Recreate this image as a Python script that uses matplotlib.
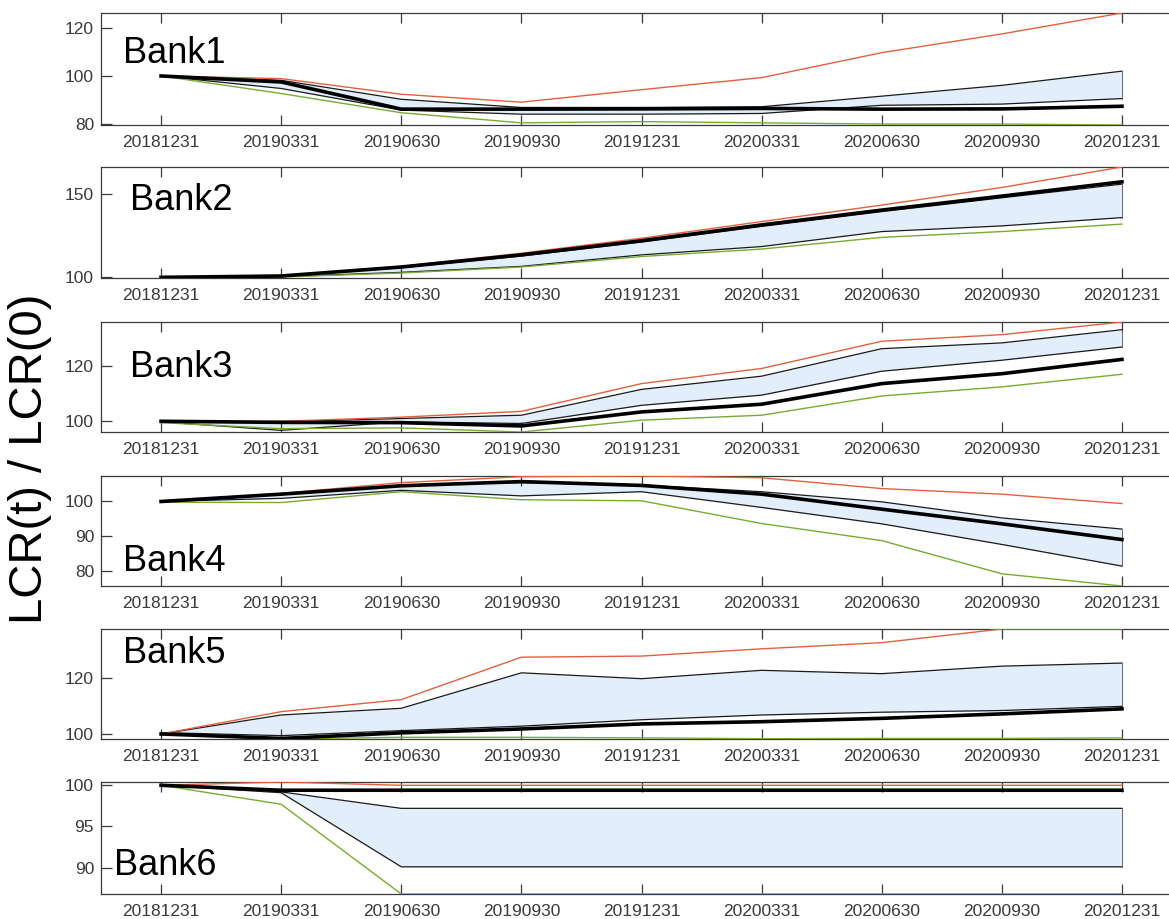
import numpy as np
import matplotlib.pyplot as plt

plt.rcParams['font.family'] = ['Liberation Sans', 'DejaVu Sans']

dates = ['20181231', '20190331', '20190630', '20190930', '20191231',
         '20200331', '20200630', '20200930', '20201231']
banks = ['Bank1', 'Bank2', 'Bank3', 'Bank4', 'Bank5', 'Bank6']

# LCR(t)/LCR(0) per bank: max, upper band, lower band, median, min
hi = [
    [100, 98.9, 92.4, 89.1, 94.3, 99.3, 109.7, 117.5, 126.2],
    [100, 101.0, 106.6, 114.5, 123.5, 133.5, 143.4, 154.0, 166.3],
    [100, 100.0, 101.5, 103.6, 113.7, 119.2, 129.1, 131.5, 136.1],
    [100, 102.3, 105.4, 107.1, 107.3, 106.8, 103.7, 102.1, 99.4],
    [100, 108.0, 112.3, 127.5, 127.9, 130.5, 132.7, 137.6, 137.6],
    [100, 100.4, 100.0, 100.0, 100.0, 100.0, 100.0, 100.0, 100.0],
]
q_up = [
    [100, 98.2, 90.3, 86.9, 86.9, 87.2, 91.6, 96.1, 102.0],
    [100, 100.7, 105.8, 112.8, 121.2, 130.6, 139.5, 147.8, 156.0],
    [100, 99.8, 101.0, 102.2, 111.6, 116.4, 126.4, 128.5, 133.3],
    [100, 102.0, 104.7, 105.4, 104.7, 102.8, 99.9, 95.3, 92.1],
    [100, 106.8, 109.2, 121.9, 119.8, 122.8, 121.6, 124.3, 125.4],
    [100, 99.2, 97.2, 97.2, 97.2, 97.2, 97.2, 97.2, 97.2],
]
q_lo = [
    [100, 94.8, 85.8, 84.1, 84.1, 84.4, 87.8, 88.3, 90.6],
    [100, 100.4, 103.0, 106.6, 113.5, 118.5, 127.5, 130.9, 135.9],
    [99.8, 96.7, 99.8, 99.2, 105.8, 109.5, 118.2, 122.2, 127.0],
    [100, 100.9, 103.2, 101.6, 102.8, 98.3, 93.6, 87.7, 81.5],
    [100.5, 99.4, 101.2, 102.8, 105.1, 106.8, 107.8, 108.4, 109.9],
    [100, 99.1, 90.1, 90.1, 90.1, 90.1, 90.1, 90.1, 90.1],
]
med = [
    [100, 97.5, 86.2, 86.2, 86.3, 86.5, 86.2, 86.3, 87.4],
    [100, 100.8, 106.2, 113.5, 122.0, 131.5, 140.4, 148.8, 157.4],
    [100, 99.6, 99.5, 98.3, 103.4, 106.2, 113.7, 117.3, 122.5],
    [100, 102.1, 104.5, 105.7, 104.6, 102.1, 97.8, 93.6, 89.1],
    [100, 98.4, 100.4, 101.8, 103.6, 104.4, 105.6, 107.2, 109.0],
    [100, 99.4, 99.4, 99.4, 99.4, 99.4, 99.4, 99.4, 99.4],
]
lo = [
    [100, 92.7, 84.7, 80.5, 81.0, 80.5, 80.0, 80.0, 79.6],
    [99.6, 100.2, 102.6, 106.2, 112.5, 117.0, 124.0, 127.5, 132.0],
    [99.5, 97.3, 97.6, 96.1, 100.4, 102.2, 109.2, 112.5, 117.1],
    [99.8, 99.7, 102.8, 100.5, 100.2, 93.7, 88.8, 79.3, 75.8],
    [100, 98.2, 98.8, 98.8, 98.6, 98.3, 98.4, 98.4, 98.6],
    [100, 97.7, 86.8, 86.8, 86.8, 86.8, 86.8, 86.8, 86.8],
]

yticks = [[80, 100, 120], [100, 150], [100, 120], [80, 90, 100], [100, 120], [90, 95, 100]]

# label position inside each panel (axes fraction)
lab_pos = [(0.02, 0.55), (0.027, 0.61), (0.027, 0.50), (0.02, 0.14), (0.02, 0.69), (0.012, 0.17)]

# panel top/bottom in pixels
rows = [(13, 125), (167, 278), (322, 432), (476, 586), (629, 739), (782, 894)]

W, H = 1169, 919
fig = plt.figure(figsize=(W / 100, H / 100), dpi=100, facecolor='white')
x = np.arange(len(dates))
grey = '#3a3a3a'

for k in range(6):
    top, bot = rows[k]
    ax = fig.add_axes([101 / W, 1 - bot / H, (1182 - 101) / W, (bot - top) / H])

    ax.fill_between(x, q_lo[k], q_up[k], color='#e3eefb', lw=0, zorder=1)
    ax.plot(x, q_up[k], color='#1a1a1a', lw=0.9, zorder=2)
    ax.plot(x, q_lo[k], color='#1a1a1a', lw=0.9, zorder=2)
    ax.plot([x[-1], x[-1]], [q_lo[k][-1], q_up[k][-1]], color='#666666', lw=0.7, zorder=2)
    ax.plot(x, hi[k], color='#e2603f', lw=1.0, zorder=3)
    ax.plot(x, lo[k], color='#77ac30', lw=1.0, zorder=3)
    ax.plot(x, med[k], color='black', lw=2.6, zorder=4)

    allv = np.concatenate([hi[k], q_up[k], q_lo[k], med[k], lo[k]])
    ax.set_ylim(allv.min(), allv.max())
    ax.set_xlim(-0.5, len(dates) - 0.5)

    ax.set_xticks(x)
    ax.set_xticklabels(dates)
    ax.set_yticks(yticks[k])
    ax.tick_params(axis='x', direction='in', length=7, width=0.9, top=True,
                   colors=grey, labelsize=12.5, pad=7)
    ax.tick_params(axis='y', direction='in', length=8, width=0.9,
                   colors=grey, labelsize=12.5, pad=5)
    for s in ax.spines.values():
        s.set_color(grey)
        s.set_linewidth(0.9)
    ax.spines['right'].set_visible(False)

    ax.text(lab_pos[k][0], lab_pos[k][1], banks[k], transform=ax.transAxes,
            fontsize=26, ha='left', va='baseline', color='black', zorder=5)

fig.text(30 / W, 1 - 459 / H, 'LCR(t) / LCR(0)', rotation=90, fontsize=34,
         ha='center', va='center', color='black')

fig.savefig('out.png', dpi=100)
